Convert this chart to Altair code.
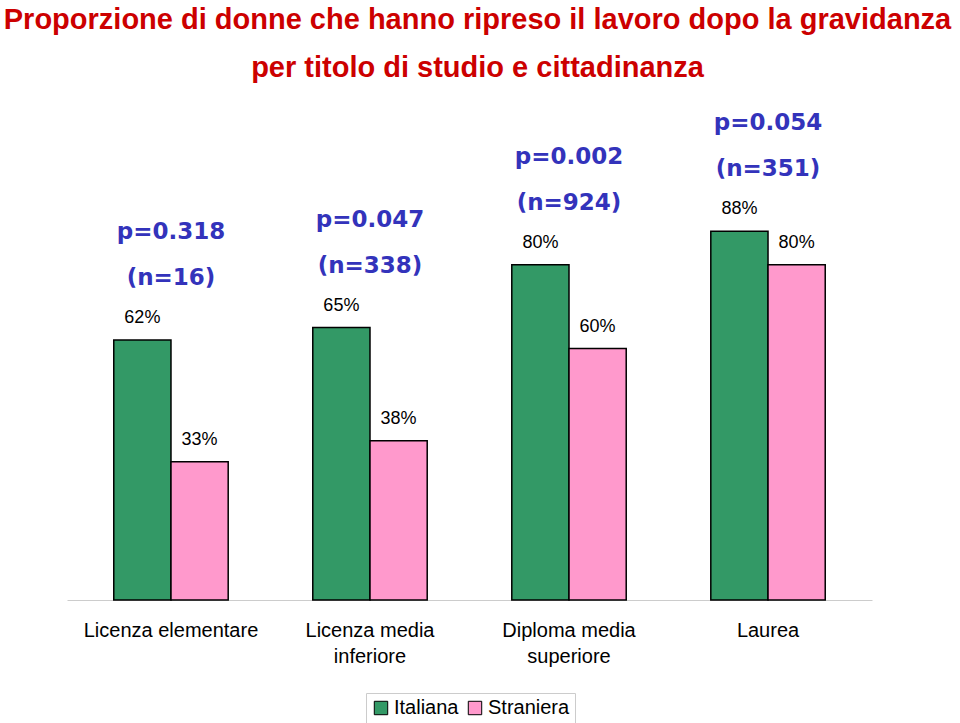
import altair as alt
import pandas as pd

categories = ["Licenza elementare", "Licenza media inferiore", "Diploma media superiore", "Laurea"]
series = ["Italiana", "Straniera"]
italiana = [62, 65, 80, 88]
straniera = [33, 38, 60, 80]
p_values = ["p=0.318", "p=0.047", "p=0.002", "p=0.054"]
n_values = [16, 338, 924, 351]

rows = []
for i, c in enumerate(categories):
    rows.append({"cat": c, "series": "Italiana", "value": italiana[i], "label": f"{italiana[i]}%",
                 "p": p_values[i], "n": f"(n={n_values[i]})"})
    rows.append({"cat": c, "series": "Straniera", "value": straniera[i], "label": f"{straniera[i]}%",
                 "p": p_values[i], "n": f"(n={n_values[i]})"})
df = pd.DataFrame(rows)

label_expr = ("indexof(datum.label, 'media ') >= 0 ? "
              "[slice(datum.label, 0, indexof(datum.label, 'media ') + 5), "
              "slice(datum.label, indexof(datum.label, 'media ') + 6)] : datum.label")

x_enc = alt.X("cat:N", sort=categories,
              scale=alt.Scale(paddingInner=0.425, paddingOuter=0.235),
              axis=alt.Axis(title=None, labelAngle=0, ticks=False, domainColor="#cccccc",
                            domainWidth=1, labelFont="Liberation Sans", labelFontSize=20,
                            labelColor="black", labelPadding=20, labelLineHeight=26,
                            labelExpr=label_expr, grid=False))
xoff = alt.XOffset("series:N", sort=series, scale=alt.Scale(paddingInner=0, paddingOuter=0))
y_enc = alt.Y("value:Q", scale=alt.Scale(domain=[0, 120]), axis=None)

base = alt.Chart(df)

bars = base.mark_bar(stroke="black", strokeWidth=1.5).encode(
    x=x_enc, xOffset=xoff, y=y_enc,
    color=alt.Color("series:N", sort=series,
                    scale=alt.Scale(domain=series, range=["#339966", "#FF99CC"]),
                    legend=alt.Legend(title=None, orient="none", direction="horizontal",
                                      legendX=299, legendY=596,
                                      symbolType="square", symbolSize=180,
                                      symbolStrokeColor="black", symbolStrokeWidth=1,
                                      labelFont="Liberation Sans", labelFontSize=20,
                                      labelColor="black", strokeColor="#cccccc",
                                      padding=5, columnPadding=6, labelOffset=3)),
)

values = base.mark_text(font="Liberation Sans", fontSize=18, color="black",
                        baseline="middle", dy=-22).encode(
    x=alt.X("cat:N", sort=categories), xOffset=xoff, y=y_enc, text="label:N")

green = base.transform_filter(alt.datum.series == "Italiana")
ptext = green.mark_text(font="DejaVu Sans", fontWeight="bold", fontSize=23, color="#3333BB",
                        baseline="middle", dy=-108).encode(
    x=alt.X("cat:N", sort=categories), y=y_enc, text="p:N")
ntext = green.mark_text(font="DejaVu Sans", fontWeight="bold", fontSize=23, color="#3333BB",
                        baseline="middle", dy=-62).encode(
    x=alt.X("cat:N", sort=categories), y=y_enc, text="n:N")

title_font = "Liberation Sans"

chart = alt.layer(bars, values, ptext, ntext).properties(
    width=805, height=503,
    autosize=alt.AutoSizeParams(type="none"),
    padding={"left": 67, "top": 97, "right": 88, "bottom": 123},
    title=alt.TitleParams(
        text="Proporzione di donne che hanno ripreso il lavoro dopo la gravidanza",
        subtitle="per titolo di studio e cittadinanza",
        font=title_font, fontSize=29, fontWeight="bold", color="#CC0000",
        subtitleFont=title_font, subtitleFontSize=29, subtitleFontWeight="bold",
        subtitleColor="#CC0000", subtitlePadding=19, anchor="middle", offset=14, dx=8),
).configure_view(stroke=None)

chart.save("out.html", embed_options={"renderer": "svg", "actions": False})
